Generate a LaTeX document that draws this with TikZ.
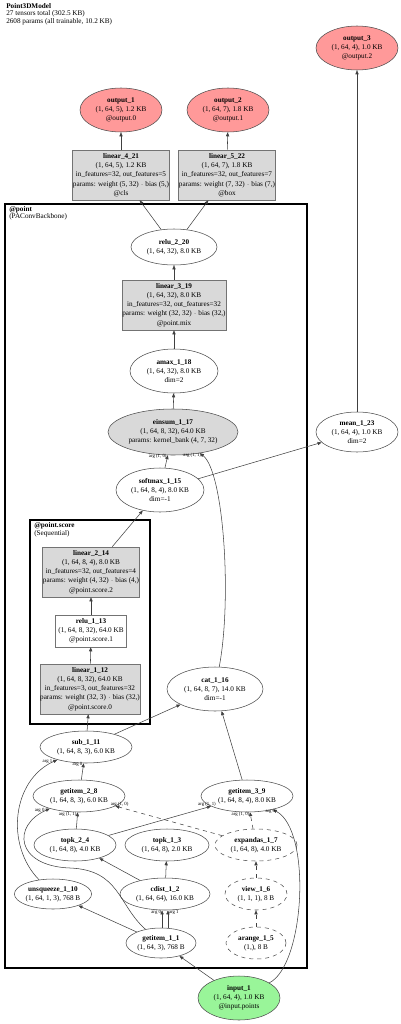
\documentclass[tikz,border=0pt]{standalone}
\usepackage{fontspec}
\setmainfont{Liberation Serif}
\usepackage{xcolor}
\usepackage{tikz}
\usetikzlibrary{arrows.meta,shapes.geometric}

\definecolor{outfill}{HTML}{FF9999}
\definecolor{infill}{HTML}{99F599}
\definecolor{opfill}{HTML}{D9D9D9}
\definecolor{edgecol}{HTML}{404040}

\begin{document}
\begin{tikzpicture}[
x=0.75pt,
y=-0.75pt,
every node/.style={font=\fontsize{5.4}{6.9}\selectfont},
op/.style={ellipse,draw=black!70,fill=white,align=center,inner sep=0pt},
opgray/.style={op,fill=opfill},
ghost/.style={op,dashed},
outnode/.style={op,fill=outfill},
innode/.style={op,fill=infill},
opbox/.style={rectangle,draw=black!55,fill=opfill,align=center,inner sep=0pt,minimum width=73pt,minimum height=37.5pt},
wbox/.style={rectangle,draw=black!55,fill=white,align=center,inner sep=0pt},
cluster/.style={draw=black,line width=2.2pt},
clab/.style={anchor=north west,align=left,inner sep=0pt,font=\fontsize{5.4}{5.8}\selectfont},
arr/.style={-{Triangle[length=3pt,width=2.4pt]},draw=edgecol,line width=0.4pt},
darr/.style={arr,dashed},
lbl/.style={font=\fontsize{3.6}{3.9}\selectfont,inner sep=0.6pt}
]
\useasboundingbox (0,0) rectangle (400,1024);

% title
\node[clab] (title) at (6,3) {\textbf{Point3DModel}\\27 tensors total (302.5 KB)\\2608 params (all trainable, 10.2 KB)};

% clusters
\draw[cluster] (5,204) rectangle (307,968);
\node[clab] (pointlab) at (9,206) {\textbf{@point}\\(PAConvBackbone)};
\draw[cluster,line width=1.9pt] (30,520) rectangle (150,724);
\node[clab] (scorelab) at (34,522) {\textbf{@point.score}\\(Sequential)};

% outputs
\node[outnode,minimum width=61.5pt,minimum height=33pt] (output_3) at (357,48) {\textbf{output\_3}\\(1, 64, 4), 1.0 KB\\@output.2};
\node[outnode,minimum width=61.5pt,minimum height=33pt] (output_1) at (121,110) {\textbf{output\_1}\\(1, 64, 5), 1.2 KB\\@output.0};
\node[outnode,minimum width=61.5pt,minimum height=33pt] (output_2) at (228,110) {\textbf{output\_2}\\(1, 64, 7), 1.8 KB\\@output.1};

% heads
\node[opbox] (linear_4_21) at (121,175) {\textbf{linear\_4\_21}\\(1, 64, 5), 1.2 KB\\in\_features=32, out\_features=5\\params: weight (5, 32) $\cdot$ bias (5,)\\@cls};
\node[opbox] (linear_5_22) at (227,175) {\textbf{linear\_5\_22}\\(1, 64, 7), 1.8 KB\\in\_features=32, out\_features=7\\params: weight (7, 32) $\cdot$ bias (7,)\\@box};

% backbone
\node[op,minimum width=64.5pt,minimum height=27pt] (relu_2_20) at (174,247) {\textbf{relu\_2\_20}\\(1, 64, 32), 8.0 KB};
\node[opbox,minimum width=78pt] (linear_3_19) at (174,305) {\textbf{linear\_3\_19}\\(1, 64, 32), 8.0 KB\\in\_features=32, out\_features=32\\params: weight (32, 32) $\cdot$ bias (32,)\\@point.mix};
\node[op,minimum width=66pt,minimum height=33pt] (amax_1_18) at (174,371) {\textbf{amax\_1\_18}\\(1, 64, 32), 8.0 KB\\dim=2};
\node[opgray,minimum width=97.5pt,minimum height=34.5pt] (einsum_1_17) at (173,432) {\textbf{einsum\_1\_17}\\(1, 64, 8, 32), 64.0 KB\\params: kernel\_bank (4, 7, 32)};
\node[op,minimum width=61.5pt,minimum height=30pt] (mean_1_23) at (357,432) {\textbf{mean\_1\_23}\\(1, 64, 4), 1.0 KB\\dim=2};
\node[op,minimum width=66pt,minimum height=33pt] (softmax_1_15) at (160,490) {\textbf{softmax\_1\_15}\\(1, 64, 8, 4), 8.0 KB\\dim=-1};

% score branch
\node[opbox] (linear_2_14) at (91,572) {\textbf{linear\_2\_14}\\(1, 64, 8, 4), 8.0 KB\\in\_features=32, out\_features=4\\params: weight (4, 32) $\cdot$ bias (4,)\\@point.score.2};
\node[wbox,minimum width=53pt,minimum height=24pt] (relu_1_13) at (91,631) {\textbf{relu\_1\_13}\\(1, 64, 8, 32), 64.0 KB\\@point.score.1};
\node[opbox,minimum width=75pt] (linear_1_12) at (90,689) {\textbf{linear\_1\_12}\\(1, 64, 8, 32), 64.0 KB\\in\_features=3, out\_features=32\\params: weight (32, 3) $\cdot$ bias (32,)\\@point.score.0};
\node[op,minimum width=72pt,minimum height=33pt] (cat_1_16) at (215,689) {\textbf{cat\_1\_16}\\(1, 64, 8, 7), 14.0 KB\\dim=-1};

% neighbourhood
\node[op,minimum width=69pt,minimum height=24pt] (sub_1_11) at (86,747) {\textbf{sub\_1\_11}\\(1, 64, 8, 3), 6.0 KB};
\node[op,minimum width=69pt,minimum height=24pt] (getitem_2_8) at (79,796) {\textbf{getitem\_2\_8}\\(1, 64, 8, 3), 6.0 KB};
\node[op,minimum width=69pt,minimum height=24pt] (getitem_3_9) at (247,796) {\textbf{getitem\_3\_9}\\(1, 64, 8, 4), 8.0 KB};
\node[op,minimum width=61.5pt,minimum height=24pt] (topk_2_4) at (75,845) {\textbf{topk\_2\_4}\\(1, 64, 8), 4.0 KB};
\node[op,minimum width=63pt,minimum height=24pt] (topk_1_3) at (167,845) {\textbf{topk\_1\_3}\\(1, 64, 8), 2.0 KB};
\node[ghost,minimum width=61.5pt,minimum height=24pt] (expandas_1_7) at (256,845) {\textbf{expandas\_1\_7}\\(1, 64, 8), 4.0 KB};
\node[op,minimum width=57pt,minimum height=22.5pt] (unsqueeze_1_10) at (53,894) {\textbf{unsqueeze\_1\_10}\\(1, 64, 1, 3), 768 B};
\node[op,minimum width=67.5pt,minimum height=24pt] (cdist_1_2) at (165,894) {\textbf{cdist\_1\_2}\\(1, 64, 64), 16.0 KB};
\node[ghost,minimum width=46.5pt,minimum height=24pt] (view_1_6) at (256,894) {\textbf{view\_1\_6}\\(1, 1, 1), 8 B};
\node[op,minimum width=52.5pt,minimum height=22.5pt] (getitem_1_1) at (161,943) {\textbf{getitem\_1\_1}\\(1, 64, 3), 768 B};
\node[ghost,minimum width=45pt,minimum height=24pt] (arange_1_5) at (256,943) {\textbf{arange\_1\_5}\\(1,), 8 B};
\node[innode,minimum width=61.5pt,minimum height=33pt] (input_1) at (239,998) {\textbf{input\_1}\\(1, 64, 4), 1.0 KB\\@input.points};

\draw[arr] (mean_1_23) -- (output_3);
\draw[arr] (linear_4_21) -- (output_1);
\draw[arr] (linear_5_22) -- (output_2);
\draw[arr] (relu_2_20) -- (linear_4_21);
\draw[arr] (relu_2_20) -- (linear_5_22);
\draw[arr] (linear_3_19) -- (relu_2_20);
\draw[arr] (amax_1_18) -- (linear_3_19);
\draw[arr] (einsum_1_17) -- (amax_1_18);
\draw[arr] (softmax_1_15) -- node[lbl,pos=0.93,left]{arg (1, 0)} (einsum_1_17);
\draw[arr] (cat_1_16) .. controls (232,600) and (224,472) .. node[lbl,pos=0.97,left]{arg (1, 1)} (einsum_1_17);
\draw[arr] (softmax_1_15) -- (mean_1_23);
\draw[arr] (linear_2_14) -- (softmax_1_15);
\draw[arr] (relu_1_13) -- (linear_2_14);
\draw[arr] (linear_1_12) -- (relu_1_13);
\draw[arr] (sub_1_11) -- (linear_1_12);
\draw[arr] (sub_1_11) -- (cat_1_16);
\draw[arr] (getitem_3_9) -- (cat_1_16);
\draw[arr] (getitem_2_8) -- node[lbl,pos=0.9,left]{arg 0} (sub_1_11);
\draw[arr] (unsqueeze_1_10) .. controls (5,845) and (12,780) .. node[lbl,pos=0.97,left]{arg 1} (sub_1_11);
\draw[arr] (topk_2_4) -- node[lbl,pos=0.85,left]{arg (1, 1)} (getitem_2_8);
\draw[darr] (expandas_1_7) -- node[lbl,pos=0.96,above]{arg (1, 0)} (getitem_2_8);
\draw[arr] (getitem_1_1) .. controls (118,905) and (120,870) .. (70,868) .. controls (15,866) and (12,825) .. node[lbl,pos=0.96,left]{arg 0} (getitem_2_8);
\draw[arr] (topk_2_4) -- node[lbl,pos=0.96,above]{arg (1, 1)} (getitem_3_9);
\draw[darr] (expandas_1_7) -- node[lbl,pos=0.85,left]{arg (1, 0)} (getitem_3_9);
\draw[arr] (input_1) .. controls (305,965) and (312,830) .. node[lbl,pos=0.97,left]{arg 0} (getitem_3_9);
\draw[arr] (cdist_1_2) -- (topk_2_4);
\draw[arr] (cdist_1_2) -- (topk_1_3);
\draw[arr] ([xshift=-2.2pt]cdist_1_2.south |- getitem_1_1.north) -- node[lbl,pos=0.9,left]{arg 0} ([xshift=-2.2pt]cdist_1_2.south);
\draw[arr] ([xshift=2.2pt]cdist_1_2.south |- getitem_1_1.north) -- node[lbl,pos=0.9,right]{arg 1} ([xshift=2.2pt]cdist_1_2.south);
\draw[arr] (getitem_1_1) -- (unsqueeze_1_10);
\draw[arr] (input_1) -- (getitem_1_1);
\draw[darr] (view_1_6) -- (expandas_1_7);
\draw[darr] (arange_1_5) -- (view_1_6);
\end{tikzpicture}
\end{document}
